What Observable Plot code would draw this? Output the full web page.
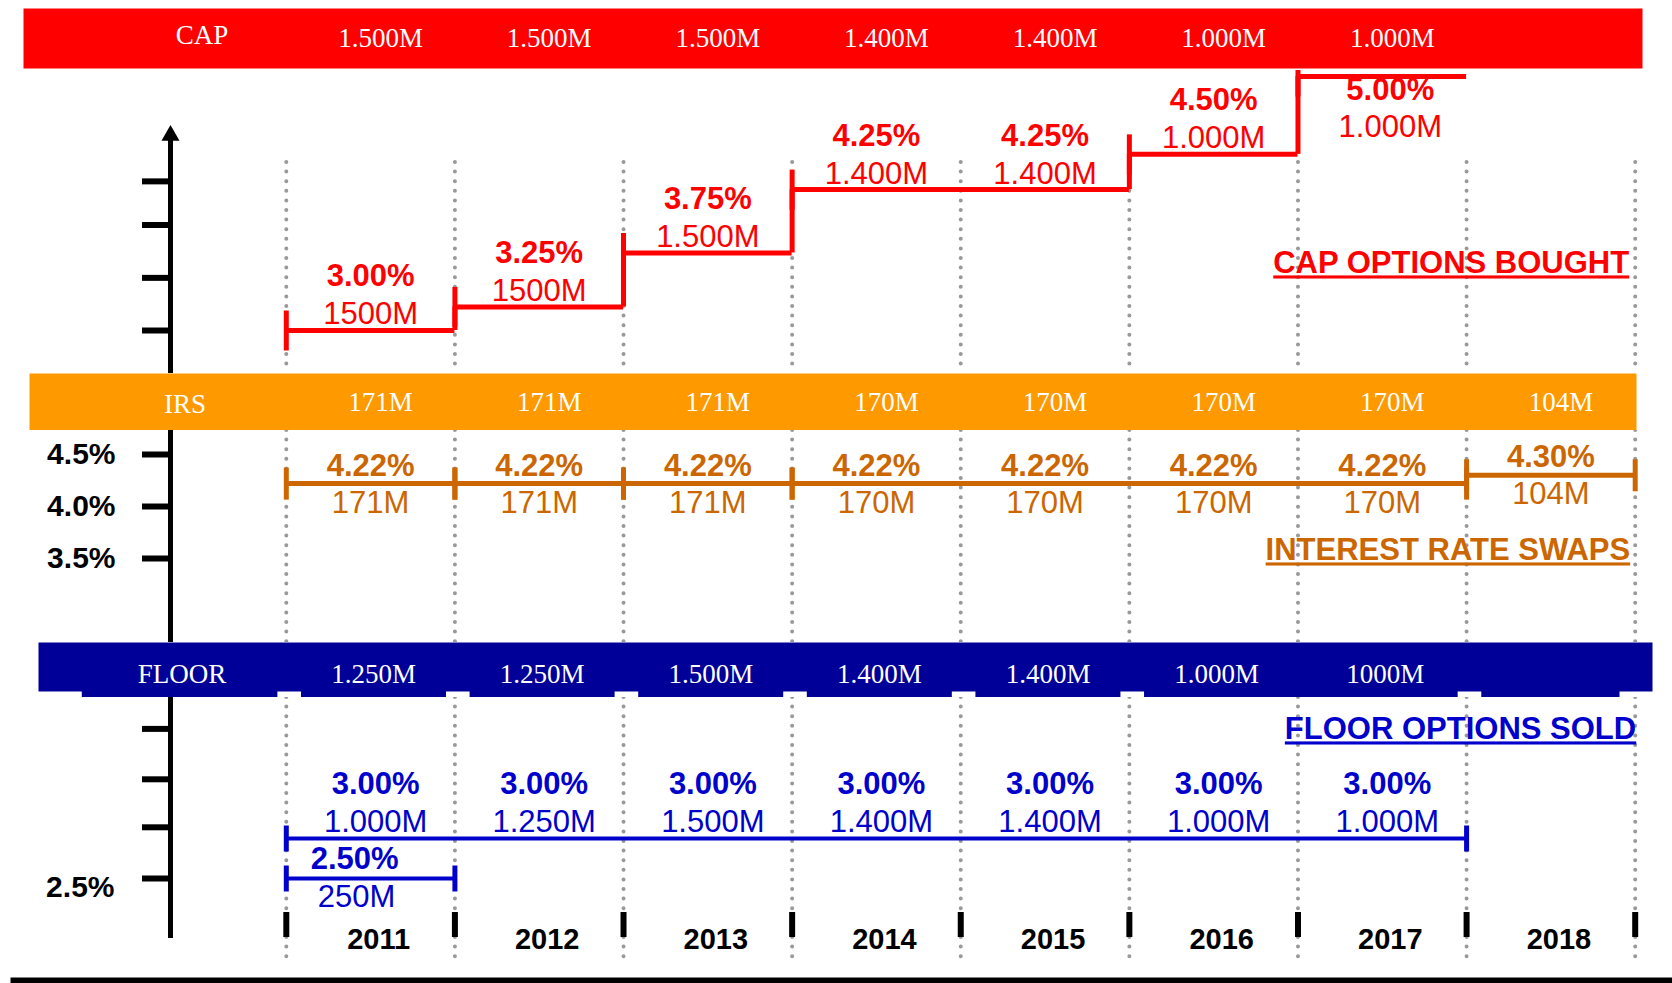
<!DOCTYPE html>
<html>
<head>
<meta charset="utf-8">
<script src="https://cdn.jsdelivr.net/npm/d3@7"></script>
<script src="https://cdn.jsdelivr.net/npm/@observablehq/plot@0.6"></script>
<style>
  html, body { margin: 0; padding: 0; background: #fff; overflow: hidden; }
  #chart svg { display: block; }
</style>
</head>
<body>
<div id="chart"></div>
<script>
// ---------------- data ----------------
const years = [2011, 2012, 2013, 2014, 2015, 2016, 2017, 2018];
const boundaries = [2011, 2012, 2013, 2014, 2015, 2016, 2017, 2018, 2019];

// CAP options bought
const capBand = ["1.500M", "1.500M", "1.500M", "1.400M", "1.400M", "1.000M", "1.000M"];
const capYearRate = [3.00, 3.25, 3.75, 4.25, 4.25, 4.50, 5.00];
const capYearNotional = ["1500M", "1500M", "1.500M", "1.400M", "1.400M", "1.000M", "1.000M"];
const capStart = [2011, 2012, 2013, 2014, 2016, 2017];
const capEnd = [2012, 2013, 2014, 2016, 2017, 2018];
const capRate = [3.00, 3.25, 3.75, 4.25, 4.50, 5.00];
const capTicks = [3.0, 3.53, 3.98, 4.31];

// Interest rate swaps
const irsBand = ["171M", "171M", "171M", "170M", "170M", "170M", "170M", "104M"];
const irsYearRate = [4.22, 4.22, 4.22, 4.22, 4.22, 4.22, 4.22, 4.30];
const irsYearNotional = ["171M", "171M", "171M", "170M", "170M", "170M", "170M", "104M"];
const irsStart = [2011, 2012, 2013, 2014, 2018];
const irsEnd = [2012, 2013, 2014, 2018, 2019];
const irsRate = [4.22, 4.22, 4.22, 4.22, 4.30];
const irsTicks = [3.5, 4.0, 4.5];

// FLOOR options sold
const floorBand = ["1.250M", "1.250M", "1.500M", "1.400M", "1.400M", "1.000M", "1000M"];
const floorYearRate = [3.00, 3.00, 3.00, 3.00, 3.00, 3.00, 3.00];
const floorYearNotional = ["1.000M", "1.250M", "1.500M", "1.400M", "1.400M", "1.000M", "1.000M"];
const floorStart = [2011, 2011];
const floorEnd = [2018, 2012];
const floorRate = [3.00, 2.50];
const floorContractLabel = [null, "250M"];
const floorTicks = [2.5, 3.14, 3.74, 4.37];
const floorTickLabels = [2.5];

// ---------------- derived tables ----------------
const pct = r => r.toFixed(2) + "%";
const capYears = capYearRate.map((rate, i) => ({year: years[i], rate, notional: capYearNotional[i]}));
const capC = capStart.map((s, i) => ({start: s, end: capEnd[i], rate: capRate[i], prev: i ? capRate[i - 1] : null}));
const irsYears = irsYearRate.map((rate, i) => ({year: years[i], rate, notional: irsYearNotional[i]}));
const irsC = irsStart.map((s, i) => ({start: s, end: irsEnd[i], rate: irsRate[i]}));
const floorYears = floorYearRate.map((rate, i) => ({year: years[i], rate, notional: floorYearNotional[i]}));
const floorC = floorStart.map((s, i) => ({start: s, end: floorEnd[i], rate: floorRate[i], label: floorContractLabel[i]}));

// ---------------- styles ----------------
const W = 1672;
const SANS = "Liberation Sans, Arial, sans-serif";
const SERIF = "Liberation Serif, Times New Roman, serif";
const RED = "#ff0000", ORANGE = "#ff9900", IRS = "#cc6600", NAVY = "#000099", BLUE = "#0000cc";
const xScale = {domain: [boundaries[0], boundaries[boundaries.length - 1]], range: [285.8, 1634.7], axis: null};
const dotted = {stroke: "#999999", strokeWidth: 4, strokeDasharray: "0 9.6", strokeLinecap: "round"};
const vbar = {draw(ctx, size) { const h = Math.sqrt(size / Math.PI); ctx.moveTo(0, -h); ctx.lineTo(0, h); }};
const bold = {fontFamily: SANS, fontWeight: "bold", fontSize: 31};
const reg = {fontFamily: SANS, fontSize: 31};
const serif = {fontFamily: SERIF, fontSize: 27, fill: "white"};

function band({height, marginTop = 0, marginBottom = 0, marginLeft, marginRight, fill, name, nameDx, nameDy, labels, labelDx, dy, under = []}) {
  return Plot.plot({
    width: W, height, marginTop, marginBottom, marginLeft, marginRight,
    x: xScale,
    marks: [
      Plot.frame({fill, stroke: "none"}),
      ...under,
      Plot.text([name], {x: () => years[0] - 0.5, text: d => d, dx: nameDx, dy: nameDy, ...serif}),
      Plot.text(labels, {x: (d, i) => years[i] + 0.5, text: d => d, dx: labelDx, dy, ...serif})
    ]
  });
}

// strip under the floor band, with small notches at the year lines
const stripGaps = [2011, 2012, 2013, 2014, 2015, 2016, 2018];
const stripEdges = [2009.79, 2018.91];
const strip = [];
{ let s = stripEdges[0]; for (const g of stripGaps) { strip.push({a: s, b: g - 0.05}); s = g + 0.09; } strip.push({a: s, b: stripEdges[1]}); }

const plots = [];

// S1: CAP band
plots.push(band({height: 70, marginTop: 8, marginBottom: 2, marginLeft: 23, marginRight: 30, fill: RED,
  name: "CAP", nameDx: 0, nameDy: -3, labels: capBand, labelDx: 10, dy: 0}));

// S2: CAP panel
const capTop = d => d.rate === d3.max(capYearRate);
plots.push(Plot.plot({
  width: W, height: 303, marginTop: 65, marginBottom: 0, marginLeft: 170, marginRight: 30,
  x: xScale,
  y: {type: "pow", exponent: 2.2, domain: [3, 5], range: [260, 6]},
  marks: [
    Plot.ruleX(boundaries, {...dotted, insetTop: 27}),
    Plot.frame({anchor: "left", stroke: "black", strokeWidth: 5}),
    Plot.dot([0], {frameAnchor: "top-left", symbol: d3.symbolTriangle, r: 6.7, fill: "black"}),
    Plot.axisY({ticks: capTicks, tickSize: 28, tickFormat: () => "", strokeWidth: 6, label: null}),
    Plot.ruleY(capC, {x1: "start", x2: "end", y: "rate", stroke: RED, strokeWidth: 5}),
    Plot.ruleX(capC.filter(d => d.prev != null), {x: "start", y1: "prev", y2: "rate", stroke: RED, strokeWidth: 5}),
    Plot.dot(capC, {x: "start", y: "rate", symbol: vbar, r: 20, fill: "none", stroke: RED, strokeWidth: 5}),
    Plot.text(capYears.filter(d => !capTop(d)), {x: d => d.year + 0.5, y: "rate", text: d => pct(d.rate), dy: -54, fill: RED, ...bold}),
    Plot.text(capYears.filter(d => !capTop(d)), {x: d => d.year + 0.5, y: "rate", text: "notional", dy: -16, fill: RED, ...reg}),
    Plot.text(capYears.filter(capTop), {x: d => d.year + 0.5, y: "rate", text: d => pct(d.rate), dy: 14, dx: 8, fill: RED, ...bold}),
    Plot.text(capYears.filter(capTop), {x: d => d.year + 0.5, y: "rate", text: "notional", dy: 51, dx: 8, fill: RED, ...reg}),
    Plot.text(["CAP OPTIONS BOUGHT"], {x: () => boundaries[boundaries.length - 1], text: d => d, frameAnchor: "bottom", lineAnchor: "middle",
      dy: -110, dx: -6, textAnchor: "end", fill: RED, ...bold})
  ]
}));

// S3: IRS band
plots.push(band({height: 57, marginLeft: 29, marginRight: 36, fill: ORANGE,
  name: "IRS", nameDx: -17, nameDy: 2, labels: irsBand, labelDx: 10, dy: 0}));

// S4: IRS panel
plots.push(Plot.plot({
  width: W, height: 212, marginTop: 0, marginBottom: 0, marginLeft: 170, marginRight: 30,
  x: xScale,
  y: {domain: [3.5, 4.5], range: [128, 24]},
  marks: [
    Plot.ruleX(boundaries, dotted),
    Plot.frame({anchor: "left", stroke: "black", strokeWidth: 5}),
    Plot.axisY({ticks: irsTicks, tickSize: 28, tickPadding: 27, tickFormat: d => d.toFixed(1) + "%", strokeWidth: 6,
      label: null, fontFamily: SANS, fontWeight: "bold", fontSize: 30, fill: "black"}),
    Plot.ruleY(irsC, {x1: "start", x2: "end", y: "rate", stroke: IRS, strokeWidth: 5}),
    Plot.dot(irsC, {x: "start", y: "rate", symbol: vbar, r: 16, fill: "none", stroke: IRS, strokeWidth: 5}),
    Plot.dot(irsC, {x: "end", y: "rate", symbol: vbar, r: 16, fill: "none", stroke: IRS, strokeWidth: 5}),
    Plot.text(irsYears, {x: d => d.year + 0.5, y: "rate", text: d => pct(d.rate), dy: -18, fill: IRS, ...bold}),
    Plot.text(irsYears, {x: d => d.year + 0.5, y: "rate", text: "notional", dy: 19, fill: IRS, ...reg}),
    Plot.text(["INTEREST RATE SWAPS"], {x: () => boundaries[boundaries.length - 1], text: d => d, dy: 14, dx: -5, textAnchor: "end", fill: IRS, ...bold})
  ]
}));

// S5: FLOOR band
plots.push(band({height: 55, marginTop: 0, marginBottom: 6, marginLeft: 38, marginRight: 20, fill: NAVY,
  name: "FLOOR", nameDx: -20, nameDy: 7, labels: floorBand, labelDx: 3, dy: 7,
  under: [Plot.rect(strip, {x1: "a", x2: "b", insetTop: 49, insetBottom: -6, fill: NAVY})]}));

// S6: FLOOR panel
plots.push(Plot.plot({
  width: W, height: 279, marginTop: 0, marginBottom: 41, marginLeft: 170, marginRight: 30,
  x: xScale,
  y: {domain: [2.5, 3.0], range: [181, 141]},
  marks: [
    Plot.ruleX(boundaries, {...dotted, insetBottom: -25}),
    Plot.ruleX(boundaries, {stroke: "black", strokeWidth: 6, insetTop: 215, insetBottom: -2}),
    Plot.frame({anchor: "left", stroke: "black", strokeWidth: 5}),
    Plot.axisY({ticks: floorTicks, tickSize: 28, tickFormat: () => "", strokeWidth: 6, label: null}),
    Plot.axisY({ticks: floorTickLabels, tickSize: 0, tickPadding: 56, tickFormat: d => d.toFixed(1) + "%", dy: 9,
      label: null, fontFamily: SANS, fontWeight: "bold", fontSize: 30, fill: "black"}),
    Plot.ruleY(floorC, {x1: "start", x2: "end", y: "rate", stroke: BLUE, strokeWidth: 4}),
    Plot.dot(floorC, {x: "start", y: "rate", symbol: vbar, r: 13, fill: "none", stroke: BLUE, strokeWidth: 5}),
    Plot.dot(floorC, {x: "end", y: "rate", symbol: vbar, r: 13, fill: "none", stroke: BLUE, strokeWidth: 5}),
    Plot.text(floorYears, {x: d => d.year + 0.5, y: "rate", text: d => pct(d.rate), dy: -54, dx: 5, fill: BLUE, ...bold}),
    Plot.text(floorYears, {x: d => d.year + 0.5, y: "rate", text: "notional", dy: -16, dx: 5, fill: BLUE, ...reg}),
    Plot.text(floorC.filter(d => d.label), {x: d => d.start + 0.5, y: "rate", text: d => pct(d.rate), dy: -19, dx: -16, fill: BLUE, ...bold}),
    Plot.text(floorC.filter(d => d.label), {x: d => d.start + 0.5, y: "rate", text: "label", dy: 19, dx: -14, fill: BLUE, ...reg}),
    Plot.text(years, {x: d => d + 0.5, text: d => String(d), frameAnchor: "bottom", lineAnchor: "middle", dy: 4, dx: 8, fill: "black",
      fontFamily: SANS, fontWeight: "bold", fontSize: 29}),
    Plot.text(["FLOOR OPTIONS SOLD"], {x: () => boundaries[boundaries.length - 1], text: d => d, frameAnchor: "top", lineAnchor: "middle",
      dy: 32, dx: 1, textAnchor: "end", fill: BLUE, ...bold})
  ]
}));

// S7: bottom rule
plots.push(Plot.plot({width: W, height: 7, marginTop: 1, marginBottom: 0, marginLeft: 10, marginRight: 0,
  marks: [Plot.frame({fill: "black", stroke: "none"})]}));

const titles = new Set(["CAP OPTIONS BOUGHT", "INTEREST RATE SWAPS", "FLOOR OPTIONS SOLD"]);
const chart = document.getElementById("chart");
for (const p of plots) {
  p.querySelectorAll("text").forEach(t => { if (titles.has(t.textContent)) t.setAttribute("text-decoration", "underline"); });
  chart.appendChild(p);
}
</script>
</body>
</html>
